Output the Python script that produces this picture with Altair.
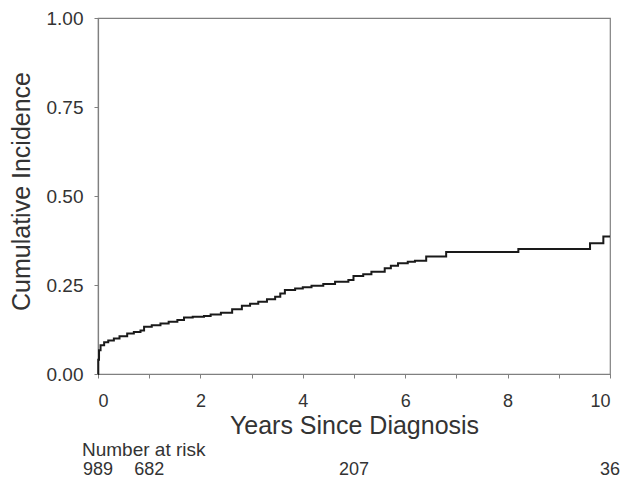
import altair as alt
import pandas as pd

# Step curve (years, cumulative incidence)
times = [0, 0.005, 0.02, 0.05, 0.12, 0.2, 0.31, 0.42, 0.57, 0.7, 0.83, 0.9, 1.05,
         1.22, 1.38, 1.55, 1.68, 1.85, 2.07, 2.2, 2.4, 2.62, 2.81, 2.97, 3.13, 3.3,
         3.46, 3.56, 3.65, 3.85, 4.0, 4.17, 4.4, 4.63, 4.89, 4.99, 5.18, 5.34, 5.6,
         5.72, 5.86, 6.05, 6.19, 6.41, 6.8, 8.21, 9.61, 9.87, 10.0]
incidence = [0, 0.04, 0.067, 0.081, 0.089, 0.094, 0.100, 0.106, 0.114, 0.118, 0.122,
             0.133, 0.137, 0.142, 0.147, 0.152, 0.159, 0.161, 0.163, 0.167, 0.172,
             0.182, 0.192, 0.197, 0.203, 0.210, 0.217, 0.226, 0.236, 0.240, 0.244,
             0.248, 0.253, 0.259, 0.264, 0.275, 0.280, 0.287, 0.297, 0.304, 0.311,
             0.315, 0.318, 0.330, 0.343, 0.351, 0.367, 0.386, 0.386]

risk_times = [0, 1, 5, 10]
risk_counts = ["989", "682", "207", "36"]

x_ticks = list(range(0, 11))
y_ticks = [0, 0.25, 0.5, 0.75, 1.0]

FONT = "Liberation Sans"
AXIS_GRAY = "#808080"
TEXT = "#333333"

curve_df = pd.DataFrame({"t": times, "ci": incidence})
risk_df = pd.DataFrame({"t": risk_times, "n": risk_counts})

x_scale = alt.Scale(domain=[0, 10], nice=False, zero=False)
y_scale = alt.Scale(domain=[0, 1], nice=False)

curve = alt.Chart(curve_df).mark_line(
    interpolate="step-after", color="#1a1a1a", strokeWidth=2
).encode(
    x=alt.X("t:Q", scale=x_scale, axis=alt.Axis(
        title="Years Since Diagnosis", values=x_ticks,
        labelExpr="datum.value % 2 == 0 ? datum.label : ''",
        format="d", labelFontSize=18, labelPadding=14, tickSize=4,
        titleFontSize=25, titleFontWeight="normal", titleBaseline="alphabetic",
        titleY=59, grid=False,
    )),
    y=alt.Y("ci:Q", scale=y_scale, axis=alt.Axis(
        title="Cumulative Incidence", values=y_ticks, format=".2f",
        labelFontSize=19, labelPadding=11, tickSize=4,
        titleFontSize=25, titleFontWeight="normal", titleAngle=-90,
        titleX=-77, titleY=173, titleAlign="center", titleBaseline="middle",
        grid=False,
    )),
)

risk_label = alt.Chart(pd.DataFrame({"label": ["Number at risk"]})).mark_text(
    align="left", baseline="alphabetic", fontSize=19, font=FONT, color=TEXT
).encode(x=alt.value(-16), y=alt.value(438), text="label:N")

risk_nums = alt.Chart(risk_df).mark_text(
    align="center", baseline="alphabetic", fontSize=18, font=FONT, color=TEXT
).encode(
    x=alt.X("t:Q", scale=x_scale),
    y=alt.value(457),
    text="n:N",
)

chart = alt.layer(curve, risk_label, risk_nums).properties(
    width=512, height=356,
    autosize=alt.AutoSizeParams(type="none"),
    padding={"left": 90, "top": 10, "right": 10, "bottom": 108},
).configure_view(
    stroke=AXIS_GRAY, strokeWidth=1.2
).configure_axis(
    domainColor=AXIS_GRAY, domainWidth=1.2, tickColor=AXIS_GRAY,
    labelColor=TEXT, titleColor=TEXT, labelFont=FONT, titleFont=FONT,
)

chart.save("out.html", embed_options={"renderer": "svg", "actions": False})
